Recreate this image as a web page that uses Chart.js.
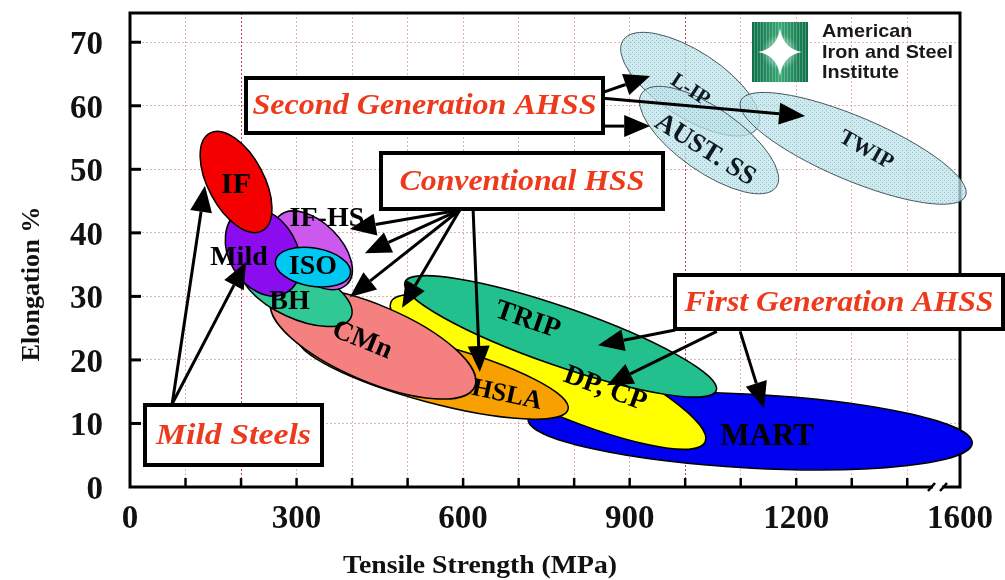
<!DOCTYPE html>
<html>
<head>
<meta charset="utf-8">
<script src="https://cdn.jsdelivr.net/npm/chart.js@4.4.0/dist/chart.umd.min.js"></script>
<style>
html, body { margin: 0; padding: 0; background: #fff; }
canvas { display: block; }
</style>
</head>
<body>
<canvas id="chart" width="1005" height="580"></canvas>
<script>
// steel grades, in drawing order (each band = major axis from low-strength end to high-strength end)
const grades   = ['L-IP', 'AUST. SS', 'TWIP', 'MART', 'DP, CP', 'TRIP', 'HSLA', 'CMn', 'BH', 'IF-HS', 'Mild', 'ISO', 'IF'];
const tsLow    = [888, 922, 1100, 717, 470, 495, 302, 255, 202, 268, 197, 262, 144];   // MPa
const elAtLow  = [70.3, 62.0, 60.8, 10.7, 29.1, 32.2, 23.6, 29.4, 34.7, 42.6, 43.4, 35.6, 55.7]; // %
const tsHigh   = [1130, 1164, 1505, 1517, 1036, 1056, 789, 621, 398, 391, 282, 397, 238];
const elAtHigh = [56.5, 47.2, 45.8, 6.9, 7.1, 15.2, 12.2, 15.8, 26.7, 31.9, 30.6, 33.6, 40.3];
const elSpread = [5.2, 5.0, 5.0, 5.8, 5.7, 4.6, 4.6, 6.0, 4.1, 4.4, 5.35, 3.0, 4.4];
const secondGen = ['L-IP', 'AUST. SS', 'TWIP'];

// axis ticks (the axis is broken after 1400, its end is labelled 1600)
const xTicks = [0, 100, 200, 300, 400, 500, 600, 700, 800, 900, 1000, 1100, 1200, 1300, 1400, 1495];
const xTickLabels = {0: '0', 300: '300', 600: '600', 900: '900', 1200: '1200', 1495: '1600'};
const yTicks = [0, 10, 20, 30, 40, 50, 60, 70];

// callouts: arrow tails and heads in (MPa, %)
const arrowFrom = [[852, 62.1], [852, 61.2], [852, 56.8],
  [594, 43.6], [594, 43.6], [594, 43.6], [594, 43.6], [618, 43.6],
  [982, 24.7], [1057, 24.5], [1099, 24.5],
  [76, 13.1], [76, 13.1]];
const arrowTo = [[937, 64.7], [1216, 58.4], [937, 56.8],
  [396, 40.6], [423, 36.8], [396, 29.9], [490, 28.2], [630, 18.1],
  [843, 22.3], [859, 16.0], [1142, 12.4],
  [135, 47.4], [209, 35.4]];

// styles
const fills = {
  'MART': '#0000f0', 'DP, CP': '#ffff00', 'TRIP': '#22c08c', 'HSLA': '#f7a000',
  'CMn': '#f48080', 'BH': '#30c894', 'IF-HS': '#cc58ee', 'Mild': '#8a0cef',
  'ISO': '#00c8f0', 'IF': '#f40000'
};
const labelDx   = [0, -4, 13, 17, 57, -33, 74, -11, -7, 14, -24, 0, 0];
const labelDy   = [6, 10, 2, 6, 17, -16, 22, -3, 10, -32, 6, 0, 3];
const labelRot  = [33, 32, 29, 0, 20, 19, 12, 22, 0, 0, 0, 0, 0];
const labelSize = [21, 27, 22, 31, 28, 28, 26, 28, 28, 28, 28, 28, 30];

const boxes = [
  {x: 246, y: 78, w: 357, h: 55, text: 'Second Generation AHSS', tw: 344},
  {x: 381, y: 153, w: 282, h: 56, text: 'Conventional HSS', tw: 245},
  {x: 675, y: 275, w: 328, h: 54, text: 'First Generation AHSS', tw: 309},
  {x: 145, y: 405, w: 177, h: 60, text: 'Mild Steels', tw: 155}
];

const SERIF = '"Liberation Serif", "Times New Roman", serif';

function fitText(ctx, text, cx, cy, font, targetW) {
  ctx.save();
  ctx.font = font;
  const w = ctx.measureText(text).width;
  ctx.translate(cx, cy);
  ctx.scale(targetW / w, 1);
  ctx.textAlign = 'center';
  ctx.fillText(text, 0, 0);
  ctx.restore();
}

function arrow(ctx, x1, y1, x2, y2) {
  const ang = Math.atan2(y2 - y1, x2 - x1);
  const hl = 26, hw = 11;
  const bx = x2 - hl * Math.cos(ang), by = y2 - hl * Math.sin(ang);
  ctx.beginPath();
  ctx.moveTo(x1, y1);
  ctx.lineTo(bx, by);
  ctx.stroke();
  ctx.beginPath();
  ctx.moveTo(x2, y2);
  ctx.lineTo(bx + hw * Math.sin(ang), by - hw * Math.cos(ang));
  ctx.lineTo(bx - hw * Math.sin(ang), by + hw * Math.cos(ang));
  ctx.closePath();
  ctx.fill();
}

function bandGeom(chart, i) {
  const {x, y} = chart.scales;
  const p1 = [x.getPixelForValue(tsLow[i]), y.getPixelForValue(elAtLow[i])];
  const p2 = [x.getPixelForValue(tsHigh[i]), y.getPixelForValue(elAtHigh[i])];
  return {
    cx: (p1[0] + p2[0]) / 2, cy: (p1[1] + p2[1]) / 2,
    a: Math.hypot(p2[0] - p1[0], p2[1] - p1[1]) / 2,
    b: elSpread[i] * (y.getPixelForValue(0) - y.getPixelForValue(1)),
    ang: Math.atan2(p2[1] - p1[1], p2[0] - p1[0])
  };
}

function stipple(ctx) {
  const c = document.createElement('canvas');
  c.width = 4; c.height = 4;
  const g = c.getContext('2d');
  g.fillStyle = 'rgba(190,228,234,0.75)';
  g.fillRect(0, 0, 4, 4);
  g.fillStyle = 'rgba(100,150,160,0.5)';
  g.fillRect(0, 0, 1, 1);
  g.fillRect(2, 2, 1, 1);
  return ctx.createPattern(c, 'repeat');
}

function drawLogo(ctx) {
  const lx = 752, ly = 22, lw = 56, lh = 60;
  const grad = ctx.createLinearGradient(lx, 0, lx + lw, 0);
  grad.addColorStop(0, '#0b6e48');
  grad.addColorStop(0.5, '#3aa874');
  grad.addColorStop(1, '#0b6e48');
  ctx.fillStyle = grad;
  ctx.fillRect(lx, ly, lw, lh);
  ctx.strokeStyle = 'rgba(255,255,255,0.25)';
  ctx.lineWidth = 1;
  for (let i = 2; i < lw; i += 3) {
    ctx.beginPath();
    ctx.moveTo(lx + i + 0.5, ly);
    ctx.lineTo(lx + i + 0.5, ly + lh);
    ctx.stroke();
  }
  const sx = lx + lw / 2, sy = ly + lh / 2;
  const glow = ctx.createRadialGradient(sx, sy, 0, sx, sy, 18);
  glow.addColorStop(0, 'rgba(255,255,255,0.9)');
  glow.addColorStop(1, 'rgba(255,255,255,0)');
  ctx.fillStyle = glow;
  ctx.fillRect(lx, ly, lw, lh);
  ctx.fillStyle = '#fff';
  ctx.beginPath();
  ctx.moveTo(sx, sy - 24);
  ctx.quadraticCurveTo(sx + 3, sy - 3, sx + 22, sy);
  ctx.quadraticCurveTo(sx + 3, sy + 3, sx, sy + 24);
  ctx.quadraticCurveTo(sx - 3, sy + 3, sx - 22, sy);
  ctx.quadraticCurveTo(sx - 3, sy - 3, sx, sy - 24);
  ctx.fill();
  ctx.fillStyle = '#1a1a1a';
  ctx.textAlign = 'left';
  ctx.textBaseline = 'alphabetic';
  ctx.font = 'bold 19px "Liberation Sans", Arial, sans-serif';
  ['American', 'Iron and Steel', 'Institute'].forEach((t, k) => {
    ctx.save();
    ctx.translate(822, 37 + k * 20.5);
    ctx.scale(131 / ctx.measureText('Iron and Steel').width, 1);
    ctx.fillText(t, 0, 0);
    ctx.restore();
  });
}

const steelPlot = {
  id: 'steelPlot',
  beforeDatasetsDraw(chart) {
    const {ctx, chartArea: a, scales: {x, y}} = chart;
    ctx.save();
    // frame + inward ticks
    ctx.strokeStyle = '#000';
    ctx.lineWidth = 3;
    ctx.strokeRect(a.left, a.top, a.right - a.left, a.bottom - a.top);
    ctx.lineWidth = 2.5;
    x.ticks.forEach(t => {
      if (t.value <= 0 || t.value >= 1495) return;
      const px = x.getPixelForValue(t.value);
      ctx.beginPath(); ctx.moveTo(px, a.bottom); ctx.lineTo(px, a.bottom - 9); ctx.stroke();
    });
    ctx.lineWidth = 3;
    y.ticks.forEach(t => {
      if (t.value <= 0) return;
      const py = y.getPixelForValue(t.value);
      ctx.beginPath(); ctx.moveTo(a.left, py); ctx.lineTo(a.left + 11, py); ctx.stroke();
    });
    // steel bands
    const pat = stipple(ctx);
    grades.forEach((g, i) => {
      const e = bandGeom(chart, i);
      ctx.beginPath();
      ctx.ellipse(e.cx, e.cy, e.a, e.b, e.ang, 0, Math.PI * 2);
      if (secondGen.includes(g)) {
        ctx.fillStyle = pat;
        ctx.fill();
        ctx.strokeStyle = '#4a5560';
        ctx.lineWidth = 1;
      } else {
        ctx.fillStyle = fills[g];
        ctx.fill();
        ctx.strokeStyle = '#000';
        ctx.lineWidth = 1.5;
      }
      ctx.stroke();
    });
    // band labels
    ctx.fillStyle = '#000';
    ctx.textAlign = 'center';
    ctx.textBaseline = 'middle';
    grades.forEach((g, i) => {
      const e = bandGeom(chart, i);
      ctx.save();
      ctx.translate(e.cx + labelDx[i], e.cy + labelDy[i]);
      ctx.rotate(labelRot[i] * Math.PI / 180);
      ctx.font = 'bold ' + labelSize[i] + 'px ' + SERIF;
      ctx.fillStyle = secondGen.includes(g) ? '#101820' : '#000';
      ctx.fillText(g, 0, 0);
      ctx.restore();
    });
    ctx.restore();
  },
  afterDatasetsDraw(chart) {
    const {ctx, chartArea: a, scales: {x, y}} = chart;
    ctx.save();
    // arrows
    ctx.strokeStyle = '#000';
    ctx.fillStyle = '#000';
    ctx.lineWidth = 3;
    arrowFrom.forEach((f, i) => {
      const t = arrowTo[i];
      arrow(ctx, x.getPixelForValue(f[0]), y.getPixelForValue(f[1]),
        x.getPixelForValue(t[0]), y.getPixelForValue(t[1]));
    });
    // boxes
    boxes.forEach(b => {
      ctx.fillStyle = '#fff';
      ctx.fillRect(b.x, b.y, b.w, b.h);
      ctx.strokeStyle = '#000';
      ctx.lineWidth = 4;
      ctx.strokeRect(b.x, b.y, b.w, b.h);
      ctx.fillStyle = '#ee3a1c';
      ctx.textBaseline = 'middle';
      fitText(ctx, b.text, b.x + b.w / 2, b.y + b.h / 2 + 1, 'italic bold 30px ' + SERIF, b.tw);
    });
    // axis break
    ctx.fillStyle = '#fff';
    ctx.fillRect(933, a.bottom - 3, 9, 6);
    ctx.strokeStyle = '#000';
    ctx.lineWidth = 2.5;
    [[928, 935], [940, 947]].forEach(s => {
      ctx.beginPath(); ctx.moveTo(s[0], a.bottom + 4); ctx.lineTo(s[1], a.bottom - 4); ctx.stroke();
    });
    // tick labels
    ctx.fillStyle = '#111';
    ctx.font = 'bold 33px ' + SERIF;
    ctx.textBaseline = 'alphabetic';
    ctx.textAlign = 'center';
    x.ticks.forEach(t => {
      const lab = xTickLabels[t.value];
      if (lab !== undefined) ctx.fillText(lab, x.getPixelForValue(t.value), 528);
    });
    ctx.textAlign = 'right';
    y.ticks.forEach(t => {
      ctx.fillText(String(t.value), 103, y.getPixelForValue(t.value) + 12);
    });
    // axis titles
    ctx.textBaseline = 'alphabetic';
    fitText(ctx, 'Tensile Strength (MPa)', 480, 573, 'bold 25px ' + SERIF, 274);
    ctx.save();
    ctx.translate(39, 284);
    ctx.rotate(-Math.PI / 2);
    fitText(ctx, 'Elongation %', 0, 0, 'bold 25px ' + SERIF, 155);
    ctx.restore();
    drawLogo(ctx);
    ctx.restore();
  }
};

new Chart(document.getElementById('chart'), {
  type: 'scatter',
  data: {
    datasets: grades.map((g, i) => ({
      label: g,
      data: [{x: tsLow[i], y: elAtLow[i]}, {x: tsHigh[i], y: elAtHigh[i]}],
      pointRadius: 0,
      showLine: false
    }))
  },
  options: {
    responsive: false,
    animation: false,
    devicePixelRatio: 1,
    layout: {padding: {left: 130, top: 13, right: 45, bottom: 93}},
    plugins: {legend: {display: false}, tooltip: {enabled: false}},
    scales: {
      x: {
        type: 'linear', min: 0, max: 1495,
        afterBuildTicks: s => { s.ticks = xTicks.map(v => ({value: v})); },
        ticks: {display: false},
        grid: {
          drawTicks: false, lineWidth: 1,
          color: c => {
            const v = c.tick ? c.tick.value : -1;
            if (v <= 0 || v >= 1495) return 'rgba(0,0,0,0)';
            return (v === 200 || v === 1000) ? 'rgba(175,30,50,0.85)' : 'rgba(215,155,155,0.75)';
          }
        },
        border: {display: false, dash: [2, 2]}
      },
      y: {
        type: 'linear', min: 0, max: 74.6,
        afterBuildTicks: s => { s.ticks = yTicks.map(v => ({value: v})); },
        ticks: {display: false},
        grid: {
          drawTicks: false, lineWidth: 1,
          color: c => (c.tick && c.tick.value > 0) ? 'rgba(215,155,155,0.75)' : 'rgba(0,0,0,0)'
        },
        border: {display: false, dash: [2, 2]}
      }
    }
  },
  plugins: [steelPlot]
});
</script>
</body>
</html>
